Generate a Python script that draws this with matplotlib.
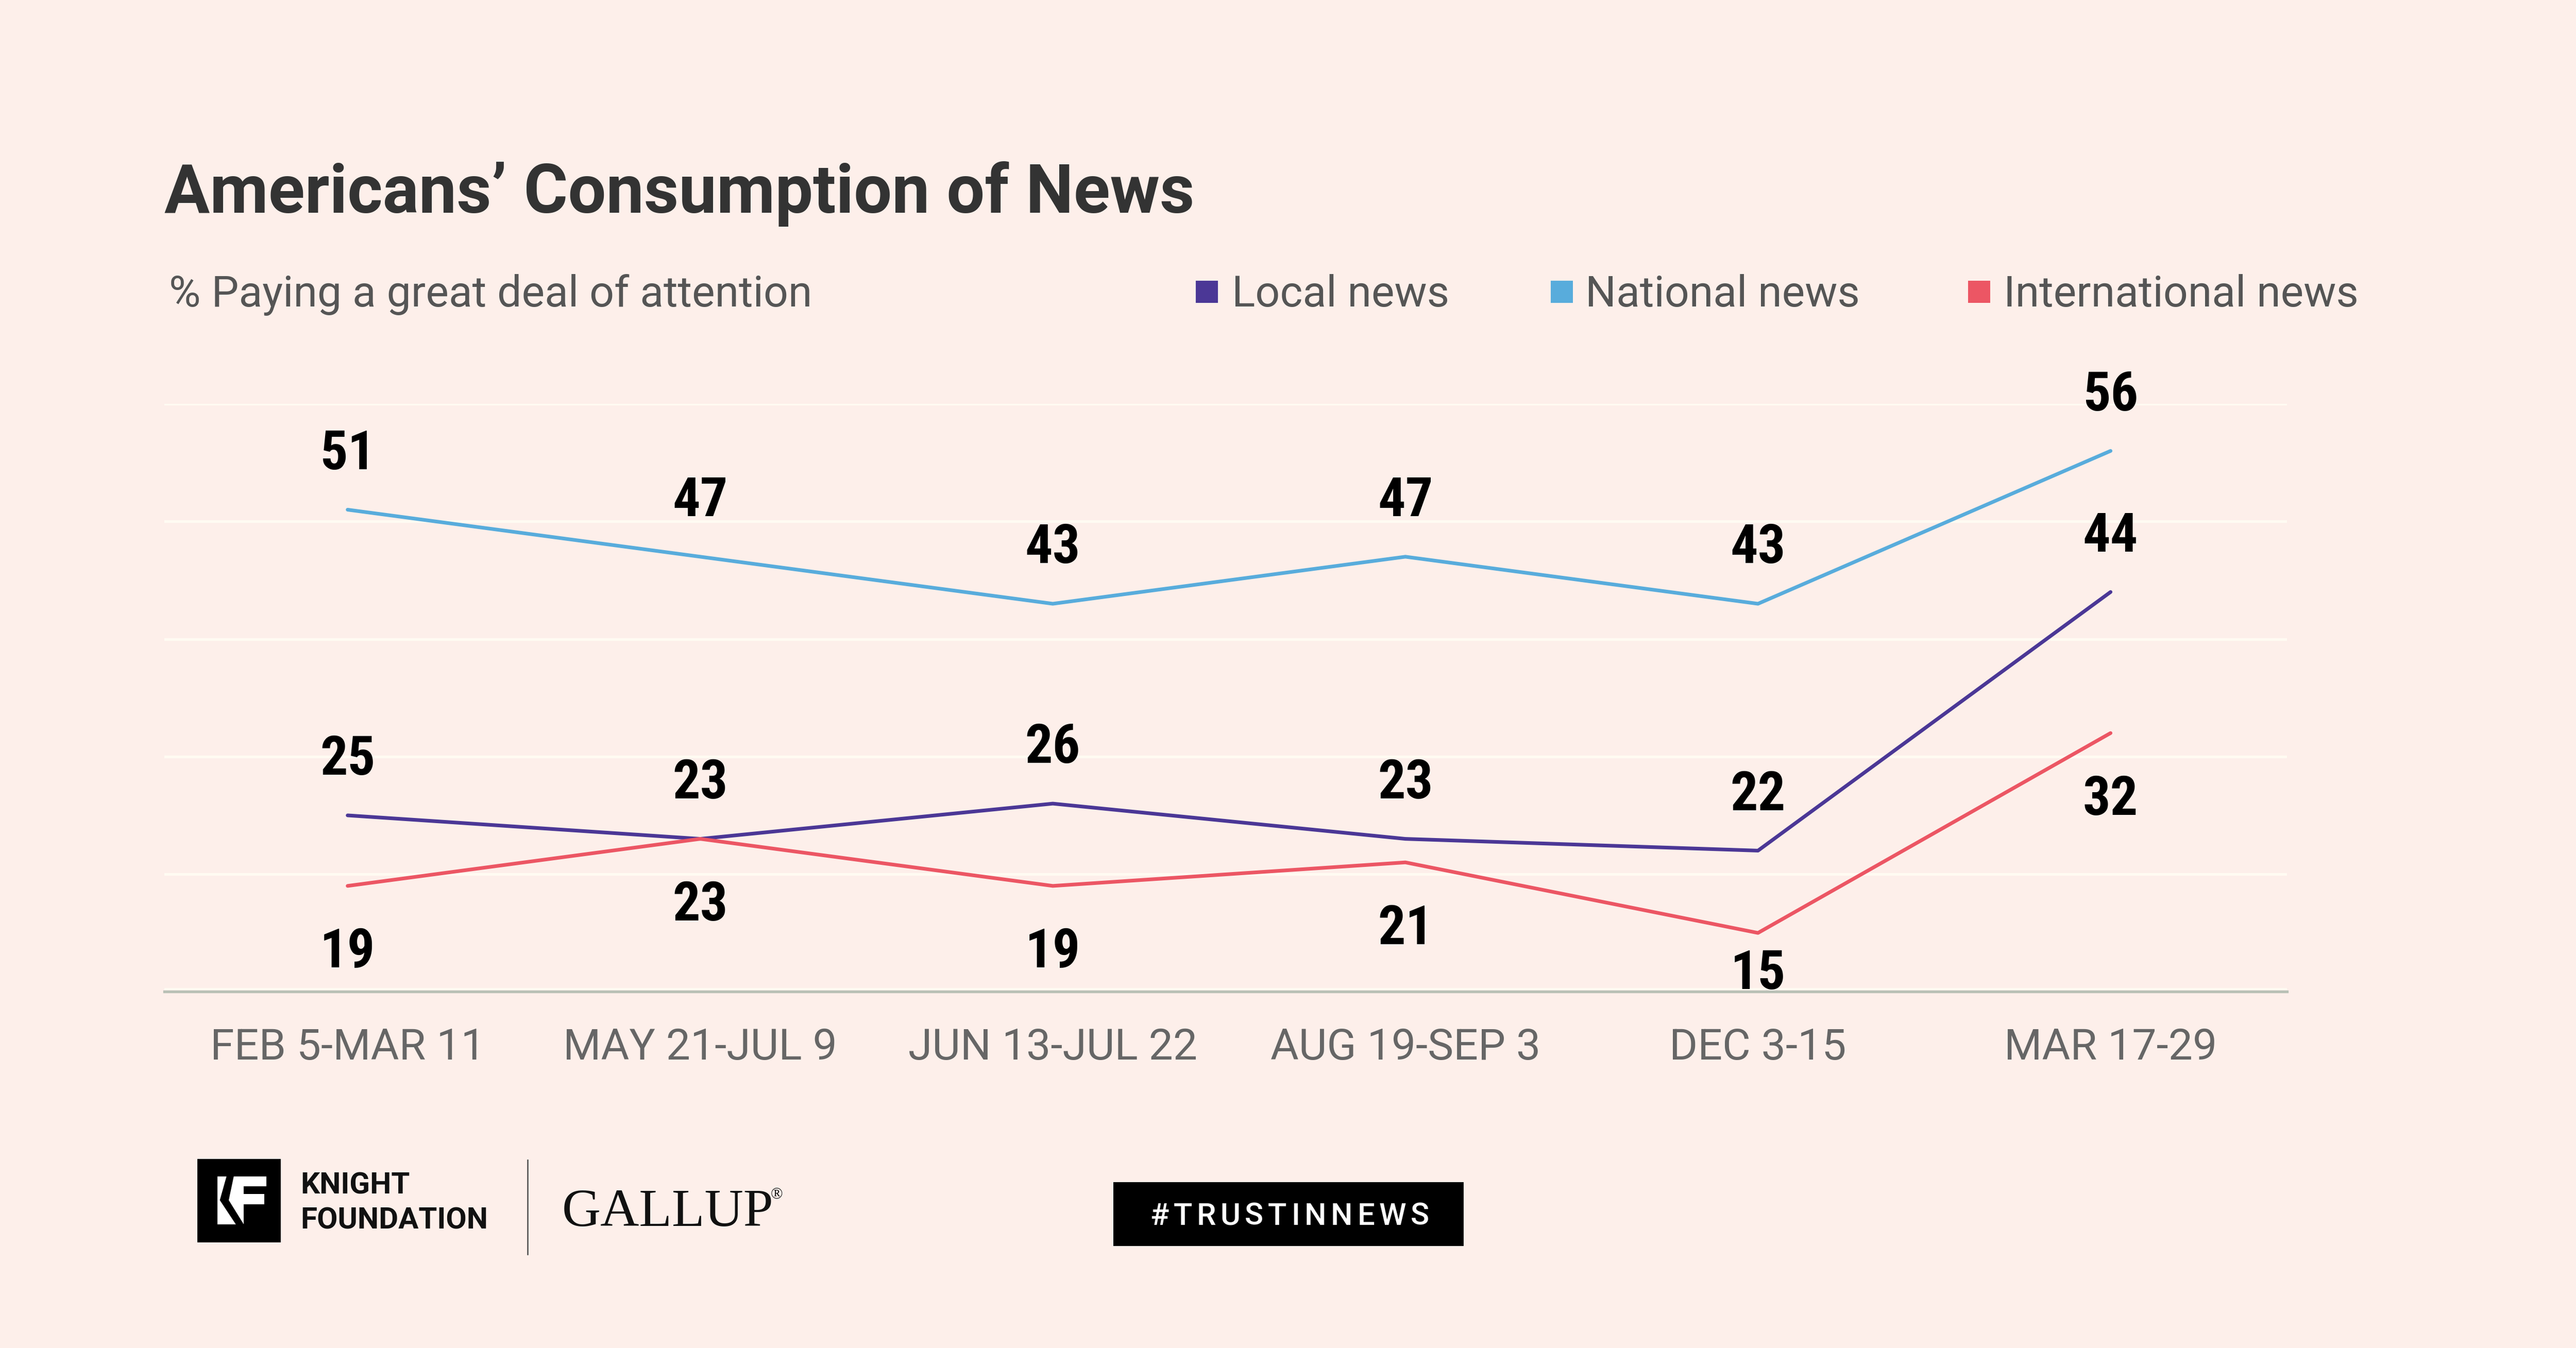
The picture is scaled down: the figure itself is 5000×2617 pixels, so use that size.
import matplotlib
matplotlib.use("Agg")
import matplotlib.pyplot as plt
from matplotlib.patches import Rectangle, Polygon
from matplotlib import font_manager as fm

# ---------------- data ----------------
periods = ["FEB 5-MAR 11", "MAY 21-JUL 9", "JUN 13-JUL 22", "AUG 19-SEP 3", "DEC 3-15", "MAR 17-29"]
series_names = ["Local news", "National news", "International news"]
local_news = [25, 23, 26, 23, 22, 44]
national_news = [51, 47, 43, 47, 43, 56]
international_news = [19, 23, 19, 21, 15, 32]

title = "Americans\u2019 Consumption of News"
subtitle = "% Paying a great deal of attention"
hashtag = "#TRUSTINNEWS"

# ---------------- style ----------------
BG = "#fdefea"
COLORS = ["#4b3796", "#58acdc", "#ec5664"]
available = {f.name for f in fm.fontManager.ttflist}


def pick(*names):
    for n in names:
        if n in available:
            return n
    return "DejaVu Sans"


SANS = pick("Roboto", "Lato", "Open Sans")
NARROW = pick("Liberation Sans Narrow", "Roboto Condensed", "Roboto")
SERIF = pick("Liberation Serif", "DejaVu Serif")

W, H = 1568.0, 821.0
DPI = 5000 / 15.68
fig = plt.figure(figsize=(15.68, 8.207), dpi=DPI)
fig.patch.set_facecolor(BG)


def fx(x):
    return x / W


def fy(y):
    return 1 - y / H


ax = fig.add_axes([fx(100), fy(604), (1392 - 100) / W, (604 - 246) / H])
ax.set_facecolor(BG)
ax.set_xlim(-0.52, 5.5)
ax.set_ylim(10, 60)
for side in ["top", "right", "left"]:
    ax.spines[side].set_visible(False)
ax.spines["bottom"].set_color("#b9c0b6")
ax.spines["bottom"].set_linewidth(1.2)
ax.set_yticks([20, 30, 40, 50, 60])
ax.yaxis.grid(True, color="#fffbf2", linewidth=1.2)
ax.set_axisbelow(True)
ax.axhline(10.22, color="#fffbf2", linewidth=0.9, zorder=0.5)
ax.tick_params(axis="y", length=0, labelleft=False)
x = list(range(len(periods)))
ax.set_xticks(x)
ax.set_xticklabels(periods, fontsize=19, color="#666666", family=SANS)
ax.tick_params(axis="x", length=0, pad=15.5)

all_series = [local_news, national_news, international_news]
label_side = [1, 1, -1]
for vals, col, side in zip(all_series, COLORS, label_side):
    ax.plot(x, vals, color=col, linewidth=1.6, solid_capstyle="round",
            solid_joinstyle="round", clip_on=False, zorder=3)
    for xi, v in zip(x, vals):
        ylab = v + 4.7 if side > 0 else max(v - 5.7, 11.5)
        ax.text(xi, ylab, str(v), ha="center", va="center", fontsize=24,
                fontweight="bold", color="#000000", family=NARROW, zorder=4)

# ---------------- title and legend ----------------
fig.text(fx(100), fy(129.5), title, fontsize=29.6, fontweight="bold",
         color="#333333", family=SANS, va="baseline", ha="left")
fig.text(fx(103), fy(186.6), subtitle, fontsize=19, fontweight="normal",
         color="#555555", family=SANS, va="baseline", ha="left")

leg_sq = [728, 944, 1198]
leg_tx = [749.7, 965, 1219.6]
for name, col, sx, tx in zip(series_names, COLORS, leg_sq, leg_tx):
    fig.patches.append(Rectangle((fx(sx), fy(184.5)), 13.5 / W, 13.5 / H,
                                 transform=fig.transFigure, facecolor=col,
                                 edgecolor="none"))
    fig.text(fx(tx), fy(186.6), name, fontsize=19, fontweight="normal",
             color="#555555", family=SANS, va="baseline", ha="left")

# ---------------- footer ----------------
def fpx(px, py):
    return (px / 5000.0, 1 - py / 2617.0)


fig.patches.append(Rectangle(fpx(383, 2412), 162 / 5000.0, 162 / 2617.0,
                             transform=fig.transFigure, facecolor="black",
                             edgecolor="none"))


def zk(zx, zy):
    return fpx(360 + zx / 3.0, 2230 + zy / 3.0)


white_shape = [(187, 163), (470, 163), (470, 220), (340, 220), (340, 265), (460, 265),
               (460, 325), (340, 325), (340, 440), (187, 440)]
fig.patches.append(Polygon([zk(a, b) for a, b in white_shape], closed=True,
                           transform=fig.transFigure, facecolor="white",
                           edgecolor="none"))
black_chev = [(240, 158), (282, 158), (252, 300), (342, 445), (296, 445), (200, 300)]
fig.patches.append(Polygon([zk(a, b) for a, b in black_chev], closed=True,
                           transform=fig.transFigure, facecolor="black",
                           edgecolor="none"))

fig.text(fx(183), fy(727), "KNIGHT", fontsize=13.2, fontweight="bold",
         color="#111111", family=SANS, va="baseline", ha="left")
fig.text(fx(183), fy(748.5), "FOUNDATION", fontsize=13.2, fontweight="bold",
         color="#111111", family=SANS, va="baseline", ha="left")
fig.add_artist(plt.Line2D([fx(321), fx(321)], [fy(706.5), fy(764)],
                          transform=fig.transFigure, color="#555555",
                          linewidth=0.6))
fig.text(fx(342), fy(746.5), "GALLUP", fontsize=23.5, color="#111111",
         family=SERIF, va="baseline", ha="left")
fig.text(fx(469), fy(730), "\u00ae", fontsize=7, color="#111111",
         family=SERIF, va="baseline", ha="left")

fig.patches.append(Rectangle((fx(677.7), fy(759)), (891 - 677.7) / W, 39 / H,
                             transform=fig.transFigure, facecolor="black",
                             edgecolor="none"))

# letter-spaced hashtag
renderer = fig.canvas.get_renderer()
chars = []
widths = []
for ch in hashtag:
    t = fig.text(0, 0, ch, fontsize=13.5, fontweight="medium", color="white",
                 family=SANS, va="baseline", ha="left")
    widths.append(t.get_window_extent(renderer).width)
    chars.append(t)
fig_w_px = fig.get_figwidth() * DPI
target_w = (870 - 700) / W * fig_w_px
track = (target_w - sum(widths)) / (len(hashtag) - 1)
cur = fx(700) * fig_w_px
for t, w in zip(chars, widths):
    t.set_position((cur / fig_w_px, fy(746)))
    cur += w + track

fig.savefig("out.png", dpi=DPI, facecolor=BG)
